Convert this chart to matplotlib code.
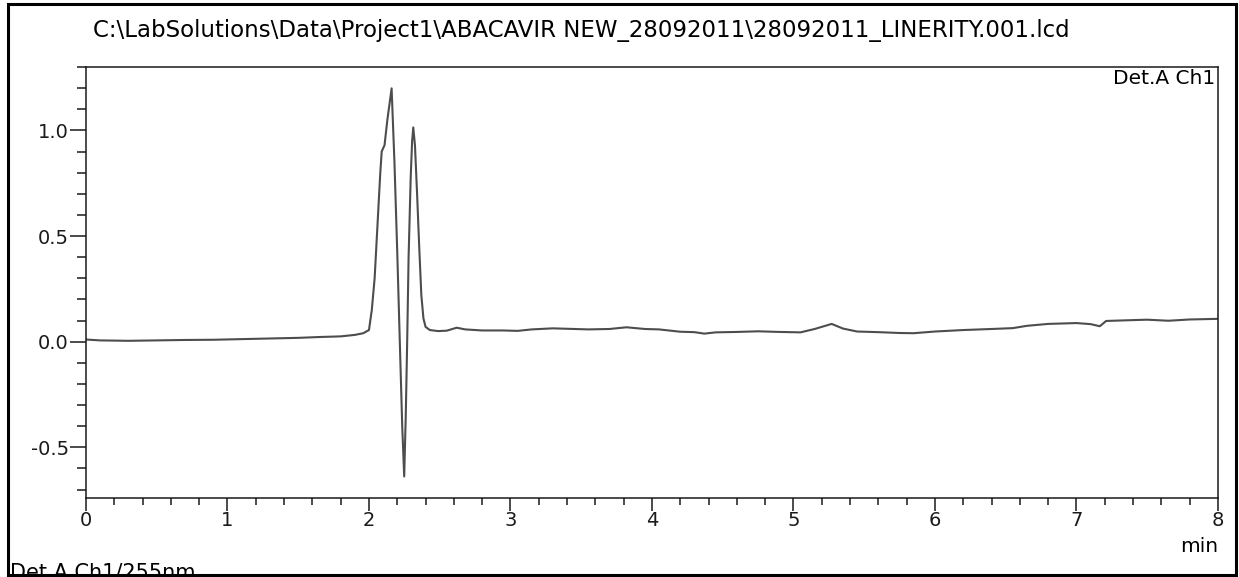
import numpy as np
import matplotlib
matplotlib.use('Agg')
import matplotlib.pyplot as plt
from matplotlib.patches import Rectangle
from matplotlib.ticker import MultipleLocator, FormatStrFormatter

# retention time (min) and detector signal
time_min = [0.00, 0.10, 0.30, 0.50, 0.70, 0.90, 1.10, 1.30, 1.50, 1.65, 1.80, 1.90, 1.96,
            2.00, 2.02, 2.04, 2.06, 2.08, 2.09, 2.11, 2.13, 2.16, 2.18, 2.20, 2.22, 2.235,
            2.249, 2.26, 2.27, 2.28, 2.295, 2.305, 2.313, 2.325, 2.34, 2.355, 2.37, 2.385,
            2.40, 2.43, 2.49, 2.55, 2.62, 2.68, 2.80, 2.95, 3.05, 3.15, 3.30, 3.45, 3.55,
            3.70, 3.82, 3.95, 4.05, 4.20, 4.30, 4.37, 4.45, 4.60, 4.75, 4.90, 5.05, 5.15,
            5.27, 5.35, 5.45, 5.60, 5.75, 5.85, 6.00, 6.20, 6.40, 6.55, 6.65, 6.80, 7.00,
            7.10, 7.165, 7.21, 7.40, 7.50, 7.65, 7.80, 8.00]
signal = [0.010, 0.006, 0.004, 0.006, 0.008, 0.009, 0.012, 0.015, 0.018, 0.022, 0.025, 0.032, 0.040,
          0.055, 0.150, 0.300, 0.550, 0.800, 0.900, 0.930, 1.050, 1.199, 0.850, 0.420, -0.050, -0.400,
          -0.638, -0.350, 0.000, 0.400, 0.780, 0.950, 1.014, 0.930, 0.700, 0.450, 0.220, 0.110,
          0.070, 0.055, 0.050, 0.052, 0.066, 0.058, 0.053, 0.053, 0.051, 0.058, 0.063, 0.060, 0.058,
          0.060, 0.068, 0.060, 0.058, 0.047, 0.045, 0.038, 0.044, 0.046, 0.049, 0.046, 0.044, 0.060,
          0.084, 0.062, 0.048, 0.045, 0.041, 0.040, 0.048, 0.055, 0.060, 0.064, 0.075, 0.084, 0.088,
          0.083, 0.073, 0.098, 0.102, 0.104, 0.099, 0.105, 0.108]

file_path = r"C:\LabSolutions\Data\Project1\ABACAVIR NEW_28092011\28092011_LINERITY.001.lcd"

plt.rcParams['font.family'] = ['DejaVu Sans']

fig = plt.figure(figsize=(12.39, 5.77), dpi=100)
ax = fig.add_axes([0.0694, 0.1369, 0.9136, 0.747])

ax.plot(time_min, signal, color='0.3', linewidth=1.5)

ax.set_xlim(0, 8)
ax.set_ylim(-0.74, 1.30)
ax.xaxis.set_major_locator(MultipleLocator(1))
ax.xaxis.set_minor_locator(MultipleLocator(0.2))
ax.yaxis.set_major_locator(MultipleLocator(0.5))
ax.yaxis.set_minor_locator(MultipleLocator(0.1))
ax.yaxis.set_major_formatter(FormatStrFormatter('%.1f'))

ax.tick_params(axis='both', which='both', direction='out', colors='0.1', labelsize=14)
ax.tick_params(axis='y', which='major', length=11.5, width=1.1, pad=1)
ax.tick_params(axis='y', which='minor', length=6.5, width=1.1)
ax.tick_params(axis='x', which='major', length=9.5, width=1.1, pad=0)
ax.tick_params(axis='x', which='minor', length=4.8, width=1.1)
for s in ax.spines.values():
    s.set_linewidth(1.1)
    s.set_color('0.1')

ax.text(0.998, 0.995, 'Det.A Ch1', transform=ax.transAxes, ha='right', va='top', fontsize=14.5)
fig.text(0.983, 0.052, 'min', ha='right', va='center', fontsize=14.5)
fig.text(0.075, 0.948, file_path, ha='left', va='center', fontsize=16.5)
fig.text(0.008, -0.002, 'Det.A Ch1/255nm', ha='left', va='baseline', fontsize=15)

fig.add_artist(Rectangle((0.0065, 0.0035), 0.991, 0.99, transform=fig.transFigure,
                         fill=False, edgecolor='black', linewidth=2.2))

fig.savefig('out.png', dpi=100)
